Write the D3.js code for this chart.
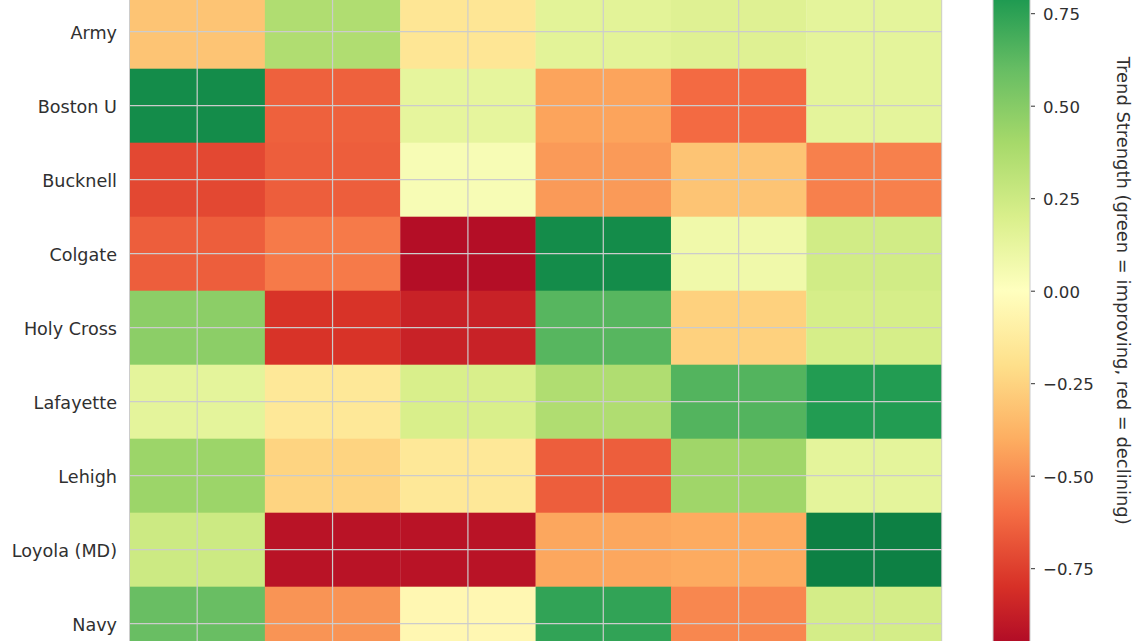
<!DOCTYPE html>
<html>
<head>
<meta charset="utf-8">
<script src="https://cdn.jsdelivr.net/npm/d3@7"></script>
<style>
  html, body { margin: 0; padding: 0; background: #ffffff; overflow: hidden; }
  svg { display: block; font-family: "DejaVu Sans", sans-serif; }
</style>
</head>
<body>
<svg id="chart" width="1140" height="641"></svg>
<script>
// ---- data ----
const teams = ["Army", "Boston U", "Bucknell", "Colgate", "Holy Cross", "Lafayette", "Lehigh", "Loyola (MD)", "Navy"];
const columns = ["c1", "c2", "c3", "c4", "c5", "c6"];
const armyVals      = [-0.31,  0.36, -0.16,  0.15,  0.17,  0.14];
const bostonVals    = [ 0.85, -0.64,  0.13, -0.43, -0.61,  0.14];
const bucknellVals  = [-0.72, -0.65,  0.04, -0.46, -0.31, -0.54];
const colgateVals   = [-0.65, -0.56, -0.94,  0.85,  0.08,  0.23];
const holyCrossVals = [ 0.48, -0.79, -0.86,  0.64, -0.26,  0.21];
const lafayetteVals = [ 0.14, -0.15,  0.20,  0.36,  0.65,  0.78];
const lehighVals    = [ 0.43, -0.25, -0.15, -0.65,  0.42,  0.14];
const loyolaVals    = [ 0.25, -0.92, -0.92, -0.42, -0.41,  0.90];
const navyVals      = [ 0.59, -0.48, -0.05,  0.74, -0.52,  0.22];
const colorbarTicks = [-0.75, -0.5, -0.25, 0, 0.25, 0.5, 0.75];
const colorbarLabel = "Trend Strength (green = improving, red = declining)";

const valueRows = [armyVals, bostonVals, bucknellVals, colgateVals, holyCrossVals,
                   lafayetteVals, lehighVals, loyolaVals, navyVals];
const cells = [];
teams.forEach((t, i) => columns.forEach((c, j) => cells.push({team: t, col: c, v: valueRows[i][j]})));

// ---- colour scale (RdYlGn, piecewise linear) ----
const rdylgn = ["#a50026","#d73027","#f46d43","#fdae61","#fee08b","#ffffbf",
                "#d9ef8b","#a6d96a","#66bd63","#1a9850","#006837"];
const cDomain = d3.range(11).map(i => -1 + i * 0.2);
const color = d3.scaleLinear().domain(cDomain).range(rdylgn).interpolate(d3.interpolateRgb);

// ---- layout ----
const svg = d3.select("#chart");
const plotLeft = 129.5, plotRight = 941.7, plotTop = -5.3, plotBottom = 660.7;
const x = d3.scaleBand().domain(columns).range([plotLeft, plotRight]);
const y = d3.scaleBand().domain(teams).range([plotTop, plotBottom]);
const textColor = "#303030";
const gridColor = "#cccccc";

// cells
svg.append("g").selectAll("rect").data(cells).join("rect")
  .attr("x", d => x(d.col)).attr("y", d => y(d.team))
  .attr("width", x.bandwidth() + 0.3).attr("height", y.bandwidth() + 0.3)
  .attr("fill", d => color(d.v));

// grid lines (on top of cells)
const grid = svg.append("g").attr("stroke", gridColor).attr("stroke-width", 1.2);
grid.selectAll("line.h").data(teams).join("line").attr("class", "h")
  .attr("x1", plotLeft).attr("x2", plotRight)
  .attr("y1", d => y(d) + y.bandwidth() / 2).attr("y2", d => y(d) + y.bandwidth() / 2);
grid.selectAll("line.v").data(columns).join("line").attr("class", "v")
  .attr("y1", plotTop).attr("y2", plotBottom)
  .attr("x1", d => x(d) + x.bandwidth() / 2).attr("x2", d => x(d) + x.bandwidth() / 2);

// spines
svg.append("rect").attr("x", plotLeft).attr("y", plotTop - 74).attr("width", plotRight - plotLeft)
  .attr("height", plotBottom - plotTop + 74)
  .attr("fill", "none").attr("stroke", gridColor).attr("stroke-width", 1);

// y labels
svg.append("g").selectAll("text").data(teams).join("text")
  .attr("x", 117).attr("y", d => y(d) + y.bandwidth() / 2 + 1.5)
  .attr("text-anchor", "end").attr("dominant-baseline", "central")
  .attr("font-size", "17.6px").attr("fill", textColor)
  .text(d => d);

// ---- colorbar ----
const cbX = 993, cbW = 37;
const cy = d3.scaleLinear().domain([-1, 1]).range([660.7, -79.3]);
const defs = svg.append("defs");
const grad = defs.append("linearGradient").attr("id", "cbgrad")
  .attr("gradientUnits", "userSpaceOnUse")
  .attr("x1", 0).attr("x2", 0).attr("y1", cy(1)).attr("y2", cy(-1));
grad.selectAll("stop").data(cDomain.slice().reverse()).join("stop")
  .attr("offset", d => (1 - d) / 2)
  .attr("stop-color", d => color(d));
svg.append("rect").attr("x", cbX).attr("y", cy(1)).attr("width", cbW).attr("height", cy(-1) - cy(1))
  .attr("fill", "url(#cbgrad)").attr("stroke", gridColor).attr("stroke-width", 1);

const cbAxis = svg.append("g").attr("transform", `translate(${cbX + cbW + 1},0)`)
  .call(d3.axisRight(cy).tickValues(colorbarTicks).tickSize(4).tickPadding(8).tickFormat(d3.format(".2f")));
cbAxis.select(".domain").remove();
cbAxis.selectAll(".tick line").attr("stroke", textColor).attr("stroke-width", 1);
cbAxis.selectAll(".tick text").attr("fill", textColor).attr("font-size", "16.6px")
  .attr("font-family", "DejaVu Sans, sans-serif").attr("dy", "0.4em");

svg.append("text")
  .attr("transform", `translate(1117, ${cy(0)}) rotate(90)`)
  .attr("text-anchor", "middle")
  .attr("font-size", "17.9px").attr("fill", textColor)
  .text(colorbarLabel);
</script>
</body>
</html>
